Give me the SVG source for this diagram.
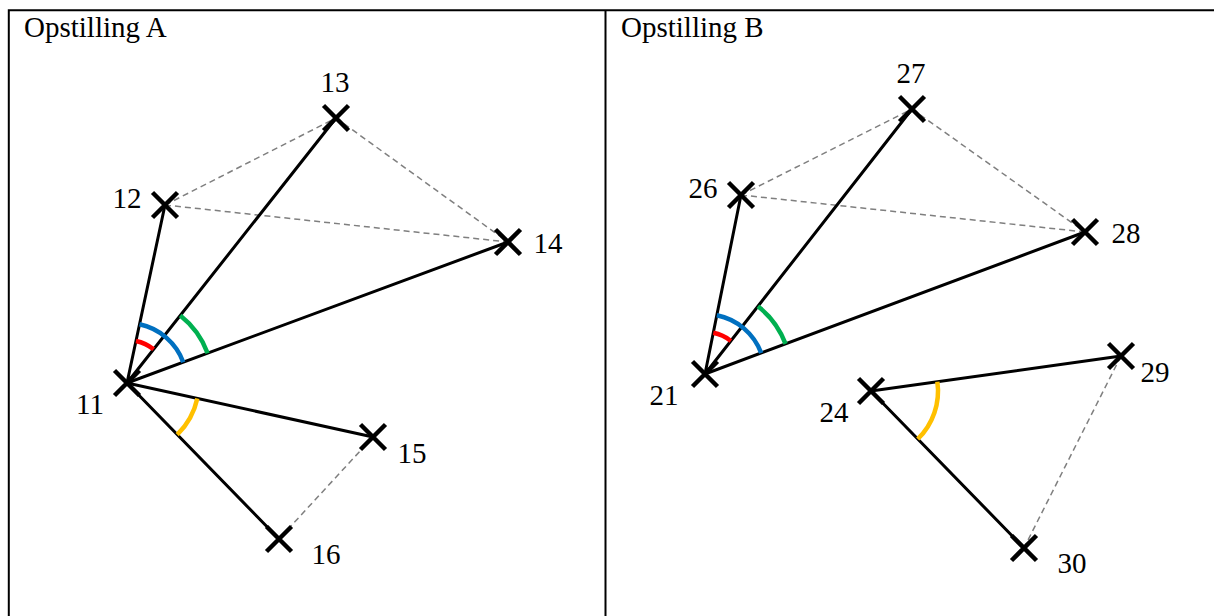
<svg xmlns="http://www.w3.org/2000/svg" xmlns:xlink="http://www.w3.org/1999/xlink" width="1214" height="616" viewBox="0 0 1214 616">
<style>
.frame{fill:none;stroke:#000;stroke-width:2}
.title,.lbl{font-family:"Liberation Serif","Times New Roman",serif;fill:#000}
.title{font-size:29px}
.lbl{font-size:29px;text-anchor:middle}
.solid{stroke:#000;stroke-width:3;fill:none}
.dash{stroke:#7f7f7f;stroke-width:1.5;stroke-dasharray:6 4;fill:none}
.arc{fill:none;stroke-width:4.5}
.red{stroke:#ff0000}.blue{stroke:#0070c0}.green{stroke:#00b050}.yellow{stroke:#ffc000}
.x{stroke:#000;stroke-width:4.5;fill:none}
</style>
<defs>
<path id="cross" class="x" d="M-12.5,-12.5L12.5,12.5M-12.5,12.5L12.5,-12.5"/>
</defs>
<rect width="1214" height="616" fill="#fff"/>
<g id="frame">
<path class="frame" d="M8.8,616V10.3H1214"/>
<path class="frame" d="M605.5,10.3V616"/>
<text class="title" x="24" y="37">Opstilling A</text>
<text class="title" x="621" y="37">Opstilling B</text>
</g>
<g id="connectors">
<path class="dash" d="M165,205L336,118M165,205L508,242M336,118L508,242M373,437L279,539"/>
<path class="dash" d="M741,195L912,109M741,195L1085,232M912,109L1085,232M1121,356L1024,548"/>
<path class="solid" d="M127,383L165,205M127,383L336,118M127,383L508,242M127,383L373,437M127,383L279,539"/>
<path class="solid" d="M705,374L741,195M705,374L912,109M705,374L1085,232M871,391L1121,356M871,391L1024,548"/>
</g>
<g id="angles">
<path class="arc red" d="M135.98,340.95A43,43 0 0 1 153.63,349.24"/>
<path class="arc blue" d="M139.53,324.32A60,60 0 0 1 183.27,362.18"/>
<path class="arc green" d="M180.26,315.47A86,86 0 0 1 207.65,353.16"/>
<path class="arc yellow" d="M197.32,398.44A72,72 0 0 1 177.25,434.57"/>
<path class="arc red" d="M713.28,332.83A42,42 0 0 1 730.85,340.9"/>
<path class="arc blue" d="M716.83,315.18A60,60 0 0 1 761.2,353"/>
<path class="arc green" d="M757.93,306.23A86,86 0 0 1 785.56,343.9"/>
<path class="arc yellow" d="M937.36,381.71A67,67 0 0 1 917.77,438.99"/>
</g>
<g id="n11"><use xlink:href="#cross" href="#cross" x="127" y="383"/><text class="lbl" x="90" y="414">11</text></g>
<g id="n12"><use xlink:href="#cross" href="#cross" x="165" y="205"/><text class="lbl" x="127" y="208">12</text></g>
<g id="n13"><use xlink:href="#cross" href="#cross" x="336" y="118"/><text class="lbl" x="335" y="92">13</text></g>
<g id="n14"><use xlink:href="#cross" href="#cross" x="508" y="242"/><text class="lbl" x="548" y="253">14</text></g>
<g id="n15"><use xlink:href="#cross" href="#cross" x="373" y="437"/><text class="lbl" x="412" y="463">15</text></g>
<g id="n16"><use xlink:href="#cross" href="#cross" x="279" y="539"/><text class="lbl" x="326" y="564">16</text></g>
<g id="n21"><use xlink:href="#cross" href="#cross" x="705" y="374"/><text class="lbl" x="664" y="405">21</text></g>
<g id="n26"><use xlink:href="#cross" href="#cross" x="741" y="195"/><text class="lbl" x="703" y="198">26</text></g>
<g id="n27"><use xlink:href="#cross" href="#cross" x="912" y="109"/><text class="lbl" x="911" y="83">27</text></g>
<g id="n28"><use xlink:href="#cross" href="#cross" x="1085" y="232"/><text class="lbl" x="1126" y="243">28</text></g>
<g id="n24"><use xlink:href="#cross" href="#cross" x="871" y="391"/><text class="lbl" x="834" y="422">24</text></g>
<g id="n29"><use xlink:href="#cross" href="#cross" x="1121" y="356"/><text class="lbl" x="1155" y="382">29</text></g>
<g id="n30"><use xlink:href="#cross" href="#cross" x="1024" y="548"/><text class="lbl" x="1072" y="573">30</text></g>
</svg>
